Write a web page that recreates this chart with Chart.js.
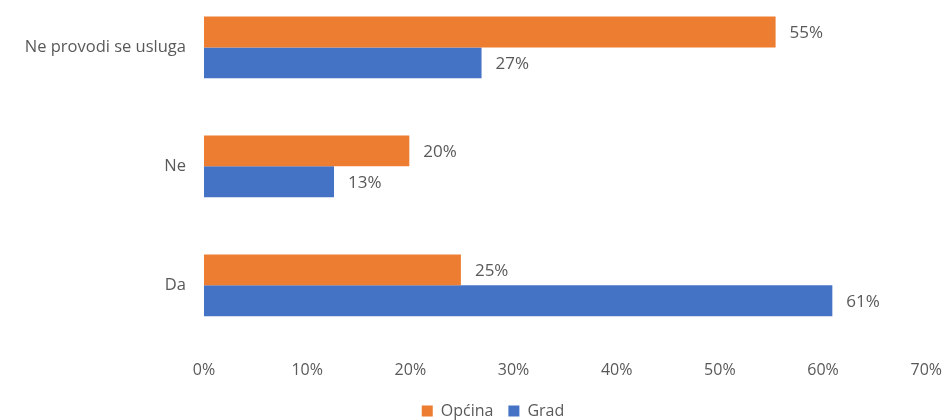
<!DOCTYPE html>
<html>
<head>
<meta charset="utf-8">
<script src="https://cdn.jsdelivr.net/npm/chart.js@4"></script>
<style>
  html, body { margin: 0; padding: 0; background: #fff; overflow: hidden; }
  #page { width: 947px; height: 420px; overflow: hidden; position: relative; }
  #wrap { position: absolute; left: 0; top: -32px; width: 950px; height: 461px; }
</style>
</head>
<body>
<div id="page"><div id="wrap"><canvas id="chart"></canvas></div></div>
<script>
const categories = ["Ne provodi se usluga", "Ne", "Da"];
const opcina = [55.4, 19.9, 24.9];
const grad = [26.9, 12.6, 60.9];
const x_ticks = [0, 10, 20, 30, 40, 50, 60, 70];

const text_color = "#595959";
const font_family = "'Open Sans', sans-serif";

// draws the value label just after the end of each bar
const value_labels = {
    id: "value_labels",
    afterDatasetsDraw(chart) {
        const ctx = chart.ctx;
        ctx.save();
        ctx.fillStyle = text_color;
        ctx.font = "17px " + font_family;
        ctx.textAlign = "left";
        ctx.textBaseline = "middle";
        chart.data.datasets.forEach((ds, i) => {
            const meta = chart.getDatasetMeta(i);
            meta.data.forEach((bar, j) => {
                ctx.fillText(Math.round(ds.data[j]) + "%", bar.x + 14, bar.y + 1);
            });
        });
        ctx.restore();
    }
};

// legend in the original sits a bit right of the page centre
const legend_shift = {
    id: "legend_shift",
    afterLayout(chart) {
        if (chart.legend) {
            chart.legend.left += 18;
            chart.legend.right += 18;
        }
    }
};

const ctx = document.getElementById("chart");
new Chart(ctx, {
    type: "bar",
    data: {
        labels: categories,
        datasets: [{
            label: "Općina",
            data: opcina,
            backgroundColor: "#ED7D31",
            categoryPercentage: 0.52,
            barPercentage: 1.0,
        }, {
            label: "Grad",
            data: grad,
            backgroundColor: "#4472C4",
            categoryPercentage: 0.52,
            barPercentage: 1.0,
        }]
    },
    options: {
        indexAxis: "y",
        responsive: true,
        maintainAspectRatio: false,
        animation: false,
        layout: { padding: 0 },
        plugins: {
            legend: {
                position: "bottom",
                labels: {
                    color: text_color,
                    font: { family: font_family, size: 16 },
                    boxWidth: 11,
                    boxHeight: 11,
                    padding: 15,
                },
            },
            tooltip: { enabled: false },
        },
        scales: {
            x: {
                min: 0,
                max: 70,
                grid: { display: false },
                border: { display: false },
                afterBuildTicks(axis) {
                    axis.ticks = x_ticks.map(v => ({ value: v }));
                },
                ticks: {
                    color: text_color,
                    font: { family: font_family, size: 16 },
                    padding: 8,
                    maxRotation: 0,
                    callback: v => v + "%",
                },
            },
            y: {
                grid: { display: false },
                border: { display: false },
                afterFit(axis) { axis.width = 204; },
                ticks: {
                    color: text_color,
                    font: { family: font_family, size: 16.5 },
                    padding: 10,
                },
            },
        },
    },
    plugins: [value_labels, legend_shift],
});
</script>
</body>
</html>
